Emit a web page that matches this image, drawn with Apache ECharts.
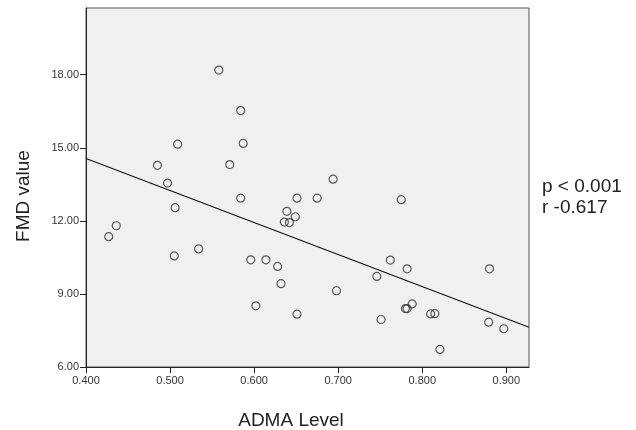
<!DOCTYPE html>
<html><head><meta charset="utf-8">
<script src="https://cdn.jsdelivr.net/npm/echarts@6/dist/echarts.min.js"></script>
<style>html,body{margin:0;padding:0;background:#fff}#c{width:636px;height:430px}</style>
</head><body><div id="c"></div>
<script>
const admaLevel = [0.558,0.584,0.509,0.587,0.485,0.571,0.497,0.584,0.506,0.651,0.675,0.639,0.649,0.636,0.642,0.436,0.427,0.534,0.505,0.596,0.614,0.628,0.632,0.602,0.651,0.694,0.775,0.762,0.782,0.880,0.746,0.698,0.788,0.780,0.782,0.810,0.815,0.751,0.879,0.897,0.821];
const fmdValue  = [18.19,16.53,15.15,15.18,14.28,14.31,13.55,12.93,12.54,12.93,12.93,12.39,12.17,11.95,11.93,11.80,11.35,10.85,10.56,10.40,10.40,10.13,9.42,8.51,8.17,13.71,12.87,10.39,10.03,10.03,9.72,9.13,8.59,8.40,8.40,8.18,8.19,7.95,7.84,7.57,6.72];
const fitX = [0.400, 0.927];
const fitY = [14.56, 7.63];
const xTicks = [0.4,0.5,0.6,0.7,0.8,0.9];
const yTicks = [6,9,12,15,18];
const xTitle = 'ADMA Level';
const yTitle = 'FMD value';
const annotation = ['p < 0.001','r -0.617'];

const chart = echarts.init(document.getElementById('c'), null, {renderer:'canvas'});
const font = '"Liberation Sans", Arial, sans-serif';
chart.setOption({
  animation:false,
  grid:{left:86, top:8, width:443, height:359, show:true, backgroundColor:'#f0f0f0', borderColor:'#555', borderWidth:1},
  xAxis:{type:'value', min:0.4, max:0.927, interval:0.1,
    axisLine:{show:true, onZero:false, lineStyle:{color:'#222'}},
    axisTick:{show:true, length:6, lineStyle:{color:'#222'}, customValues:xTicks},
    axisLabel:{color:'#333', fontFamily:font, fontSize:11, margin:8, customValues:xTicks, formatter:v=>v.toFixed(3)},
    splitLine:{show:false}},
  yAxis:{type:'value', min:6, max:20.74, interval:3,
    axisLine:{show:true, onZero:false, lineStyle:{color:'#222'}},
    axisTick:{show:true, length:6, lineStyle:{color:'#222'}, customValues:yTicks},
    axisLabel:{color:'#333', fontFamily:font, fontSize:11, margin:7, customValues:yTicks, formatter:v=>v.toFixed(2)},
    splitLine:{show:false}},
  graphic:[
    {type:'text', x:291, y:421, style:{text:xTitle, fill:'#222', font:'19px '+font, align:'center', verticalAlign:'middle'}},
    {type:'text', x:24, y:196, rotation:Math.PI/2, style:{text:yTitle, fill:'#222', font:'19px '+font, align:'center', verticalAlign:'middle'}},
    {type:'text', x:542, y:176, style:{text:annotation.join('\n'), fill:'#222', font:'19px '+font, lineHeight:21}}
  ],
  series:[
    {type:'scatter', data:admaLevel.map((x,i)=>[x,fmdValue[i]]), symbol:'circle', symbolSize:8,
     itemStyle:{color:'rgba(0,0,0,0)', borderColor:'#333', borderWidth:1.2}, z:3},
    {type:'line', data:fitX.map((x,i)=>[x,fitY[i]]), symbol:'none', lineStyle:{color:'#111', width:1.2}, z:2}
  ]
});
</script></body></html>
